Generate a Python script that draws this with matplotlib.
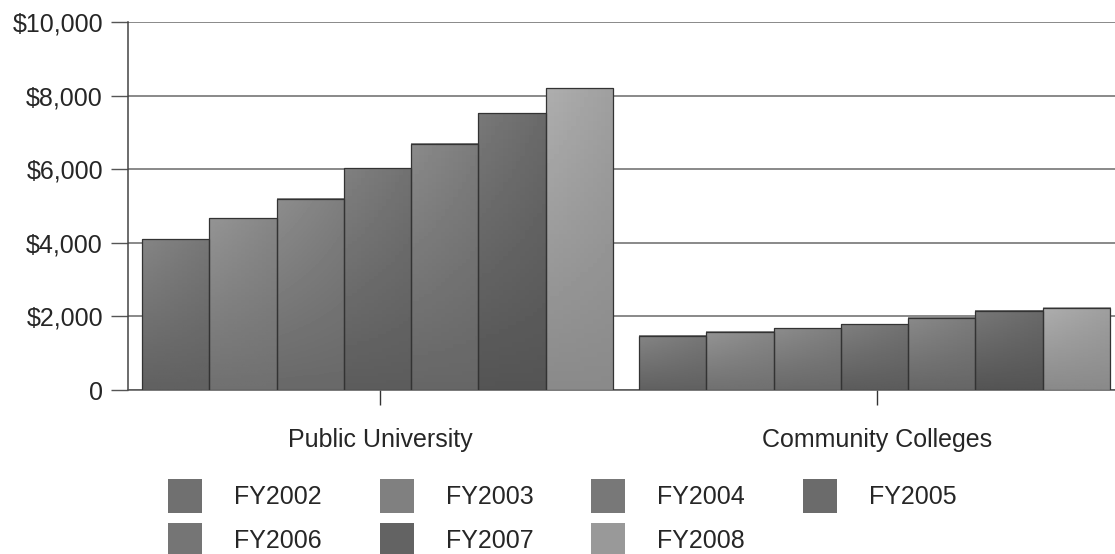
import numpy as np
import matplotlib.pyplot as plt
from matplotlib.patches import Patch

# data
categories = ["Public University", "Community Colleges"]
years = ["FY2002", "FY2003", "FY2004", "FY2005", "FY2006", "FY2007", "FY2008"]
public_university = [4100, 4670, 5200, 6030, 6690, 7530, 8200]
community_colleges = [1470, 1580, 1680, 1790, 1960, 2150, 2230]
yticks = [0, 2000, 4000, 6000, 8000, 10000]
ytick_labels = ["0", "$2,000", "$4,000", "$6,000", "$8,000", "$10,000"]

# grey shades for each year (scanned print look)
bar_greys = [0.44, 0.50, 0.47, 0.42, 0.46, 0.39, 0.60]

plt.rcParams['font.family'] = ['Liberation Sans', 'DejaVu Sans']

fig = plt.figure(figsize=(11.15, 5.54), dpi=100)
ax = fig.add_axes([128 / 1115, 0.296, 987 / 1115, 0.664])

values = np.array([public_university, community_colleges])
x = np.arange(len(categories))
width = 0.1354
offsets = (np.arange(len(years)) - 3) * width - 0.005

for i, year in enumerate(years):
    g = bar_greys[i]
    bars = ax.bar(x + offsets[i], values[:, i], width, color=str(g),
                  edgecolor='none', zorder=3)
    # soft shading inside each bar
    for rect in bars:
        bx, by = rect.get_x(), rect.get_y()
        bw, bh = rect.get_width(), rect.get_height()
        grad = np.linspace(1, 0, 64).reshape(-1, 1) * np.linspace(1, 0.6, 16).reshape(1, -1)
        img = g - 0.06 + 0.14 * grad
        ax.imshow(img, cmap='gray', vmin=0, vmax=1, aspect='auto',
                  extent=(bx, bx + bw, by, by + bh), origin='upper',
                  clip_path=rect, zorder=3.5)
    # outlines on top
    ax.bar(x + offsets[i], values[:, i], width, facecolor='none',
           edgecolor='#333333', linewidth=0.9, zorder=4)

ax.set_xlim(-0.507, 1.479)
ax.set_ylim(0, 10000)

ax.set_yticks(yticks)
ax.set_yticklabels(ytick_labels)
ax.yaxis.grid(True, color='#6a6a6a', linewidth=1.1, zorder=0)
ax.set_axisbelow(True)

ax.set_xticks(x)
ax.set_xticklabels(categories)

for s in ['top', 'right']:
    ax.spines[s].set_visible(False)
ax.spines['left'].set_color('#444444')
ax.spines['bottom'].set_color('#555555')
ax.spines['left'].set_linewidth(1.1)
ax.spines['bottom'].set_linewidth(1.1)

ax.tick_params(axis='y', length=12, width=1.0, color='#555555',
               labelsize=18, labelcolor='#262626', pad=6)
ax.tick_params(axis='x', length=11, width=1.0, color='#333333',
               labelsize=18, labelcolor='#262626', pad=16)

# legend, filled row by row like the original
order = [0, 4, 1, 5, 2, 6, 3]
handles = [Patch(facecolor=str(bar_greys[i]), edgecolor='none') for i in order]
labels = [years[i] for i in order]
fig.legend(handles, labels, ncol=4, frameon=False,
           loc='upper left', bbox_to_anchor=(168 / 1115, 0.136),
           borderaxespad=0, borderpad=0,
           fontsize=18, handlelength=1.36, handleheight=1.75,
           handletextpad=1.28, columnspacing=2.32, labelspacing=0.38,
           labelcolor='#262626')

fig.savefig("out.png", dpi=100)
